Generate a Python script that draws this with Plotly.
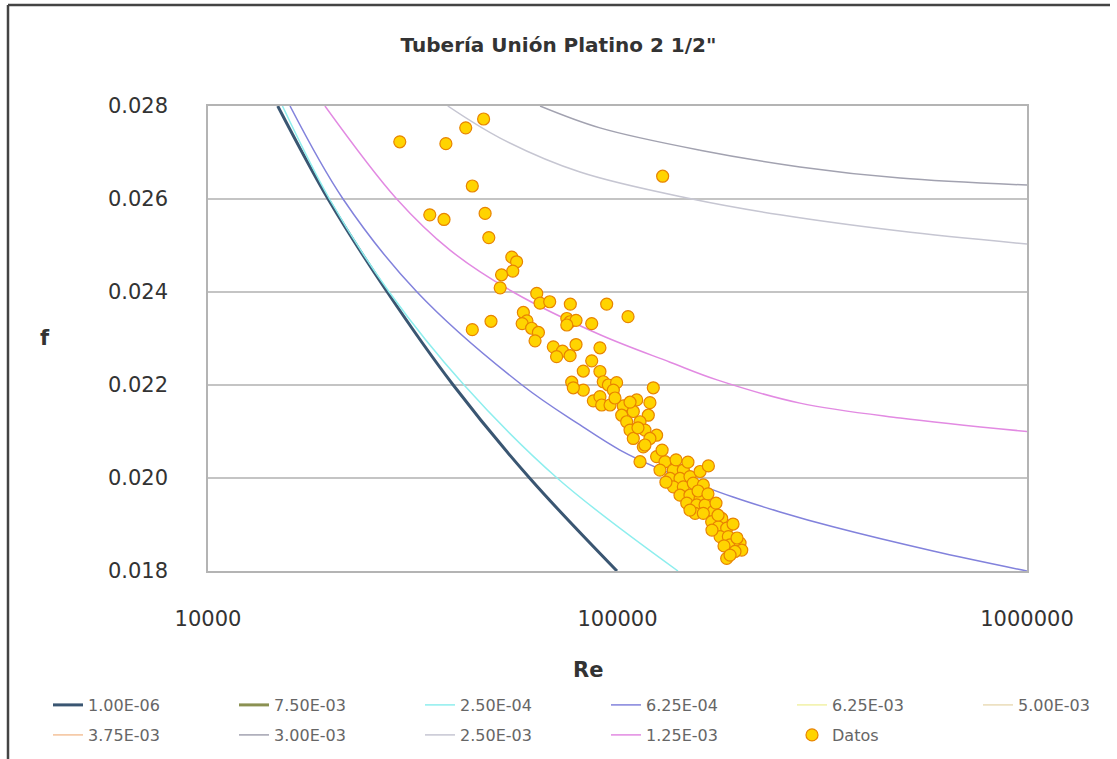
import plotly.graph_objects as go

# ---------------- data ----------------
# reference curves (Re, f) for each relative roughness
re_1e06 = [14800, 19650, 27400, 39700, 61000, 99700]
f_1e06 = [0.0280, 0.0260, 0.0240, 0.0220, 0.0200, 0.0180]

re_250e04 = [15200, 19800, 27700, 42200, 71200, 140500]
f_250e04 = [0.0280, 0.0260, 0.0240, 0.0220, 0.0200, 0.0180]

re_625e04 = [15860, 21370, 32390, 58450, 81000, 101400, 127000, 159100,
             191500, 249400, 336000, 589500, 1000000]
f_625e04 = [0.0280, 0.0260, 0.0240, 0.0220, 0.02114, 0.0206, 0.02019, 0.01985,
            0.01959, 0.01927, 0.01895, 0.01843, 0.0180]

re_125e03 = [19300, 28900, 39000, 55600, 90700, 134400, 175000, 279000, 490000, 1000000]
f_125e03 = [0.0280, 0.0260, 0.0249, 0.0240, 0.02308, 0.02249, 0.02211, 0.02161, 0.02129, 0.02100]

re_250e03 = [38500, 51700, 81000, 152000, 249400, 489700, 1000000]
f_250e03 = [0.0280, 0.02731, 0.02658, 0.0260, 0.02566, 0.02531, 0.02503]

re_300e03 = [64700, 90600, 159100, 279000, 490000, 1000000]
f_300e03 = [0.0280, 0.02753, 0.02705, 0.02669, 0.02645, 0.0263]

# curves that lie above the visible range (estimated)
re_off = [10000, 100000, 1000000]
f_375e03 = [0.0325, 0.0293, 0.0286]
f_500e03 = [0.0343, 0.0313, 0.0305]
f_625e03 = [0.0360, 0.0334, 0.0326]
f_750e03 = [0.0375, 0.0352, 0.0346]

# measured data points
re_datos = [29400, 38100, 42600, 47100, 44200, 34800, 37700, 47500, 48500, 128900,
            55200, 56700, 55500, 52100, 51700, 63500, 64700, 68300, 76700, 94100,
            106100, 49100, 44200, 58900, 60100, 58500, 61700, 64100, 62900, 75200,
            76600, 79200, 75200, 86500, 69700, 73400, 71000, 76600, 79200, 90600,
            86500, 82500, 90600, 77300, 82500, 78000, 92300, 95000, 99500, 97700,
            122300, 87300, 90600, 91500, 95900, 103300, 111400, 120000, 102400, 109300,
            118900, 105300, 113500, 107300, 116700, 124600, 109300, 120000, 115600, 113500,
            124600, 130600, 127000, 136900, 144800, 134400, 142100, 150300, 159100, 166700,
            136900, 144800, 153100, 162000, 142100, 150300, 159100, 147600, 156100, 163600,
            171400, 154700, 162000, 169800, 179700, 176300, 184800, 178000, 186500, 188300,
            199200, 201100, 193600, 184800, 116700, 128500, 139000, 148600, 131300, 157300,
            166300, 174000, 170100, 191500, 182000, 195800, 150300, 176000, 188300, 98600,
            107300, 112200]
f_datos = [0.02723, 0.02719, 0.02753, 0.02772, 0.02628, 0.02566, 0.02556, 0.02569, 0.02517, 0.02649,
           0.02475, 0.02465, 0.02445, 0.02437, 0.02409, 0.02397, 0.02376, 0.02379, 0.02374, 0.02374,
           0.02347, 0.02337, 0.02319, 0.02356, 0.02338, 0.02332, 0.02322, 0.02313, 0.02295, 0.02343,
           0.02336, 0.02339, 0.02329, 0.02332, 0.02282, 0.02273, 0.02261, 0.02263, 0.02287, 0.02280,
           0.02252, 0.02230, 0.02229, 0.02206, 0.02189, 0.02194, 0.02207, 0.02200, 0.02205, 0.02189,
           0.02194, 0.02166, 0.02175, 0.02157, 0.02157, 0.02155, 0.02168, 0.02162, 0.02135, 0.02143,
           0.02135, 0.02121, 0.02121, 0.02103, 0.02103, 0.02092, 0.02085, 0.02085, 0.02067, 0.02035,
           0.02046, 0.02035, 0.02017, 0.02017, 0.02017, 0.01999, 0.01999, 0.02003, 0.02014, 0.02026,
           0.01981, 0.01981, 0.01989, 0.01985, 0.01963, 0.01963, 0.01956, 0.01946, 0.01942, 0.01942,
           0.01928, 0.01924, 0.01924, 0.01906, 0.01913, 0.01895, 0.01892, 0.01874, 0.01874, 0.01856,
           0.01860, 0.01845, 0.01842, 0.01827, 0.02071, 0.02060, 0.02039, 0.02034, 0.01991, 0.01972,
           0.01966, 0.01946, 0.01888, 0.01901, 0.01854, 0.01871, 0.01931, 0.01920, 0.01834, 0.02172,
           0.02163, 0.02108]

x_tickvals = [10000, 100000, 1000000]
x_ticktext = ["10000", "100000", "1000000"]

# ---------------- figure ----------------
W, H = 1117, 759
L, R, T, B = 208, 90, 106, 188
PW, PH = W - L - R, H - T - B


def px_x(p):
    return (p - L) / PW


def px_y(p):
    return (H - B - p) / PH


FONT = "DejaVu Sans"
fig = go.Figure()


def curve(x, y, name, color, width, legend):
    fig.add_trace(go.Scatter(x=x, y=y, mode="lines", name=name, legend=legend,
                             line=dict(color=color, width=width, shape="spline", smoothing=1.0),
                             hoverinfo="skip"))


curve(re_1e06, f_1e06, "1.00E-06", "#3a5672", 3, "legend")
curve(re_off, f_750e03, "7.50E-03", "#8b9152", 3, "legend")
curve(re_250e04, f_250e04, "2.50E-04", "#8eeeee", 1.5, "legend")
curve(re_625e04, f_625e04, "6.25E-04", "#8282dc", 1.5, "legend")
curve(re_off, f_625e03, "6.25E-03", "#f1f1a6", 1.5, "legend")
curve(re_off, f_500e03, "5.00E-03", "#eadcb8", 1.5, "legend3")
curve(re_off, f_375e03, "3.75E-03", "#f4c29a", 1.5, "legend2")
curve(re_300e03, f_300e03, "3.00E-03", "#a2a2b0", 1.5, "legend2")
curve(re_250e03, f_250e03, "2.50E-03", "#c6c6d2", 1.5, "legend2")
curve(re_125e03, f_125e03, "1.25E-03", "#e28ae2", 1.5, "legend2")

fig.add_trace(go.Scatter(x=re_datos, y=f_datos, mode="markers", name="Datos", legend="legend2",
                         marker=dict(size=12, color="#ffd400", line=dict(color="#e88400", width=1.2))))

legend_common = dict(orientation="h", xanchor="left", yanchor="middle",
                     entrywidth=141, entrywidthmode="pixels", itemwidth=30,
                     font=dict(family=FONT, size=16, color="#666666"),
                     bgcolor="rgba(0,0,0,0)", borderwidth=0, tracegroupgap=0)

fig.update_layout(
    width=W, height=H,
    margin=dict(l=L, r=R, t=T, b=B, autoexpand=False),
    paper_bgcolor="white", plot_bgcolor="white",
    showlegend=True,
    title=dict(text="Tubería Unión Platino 2 1/2\"", x=0.5, xref="container", xanchor="center",
               y=1 - 45 / H, yref="container", yanchor="middle",
               font=dict(family=FONT, size=20, color="#333333", weight="bold")),
    legend=dict(x=px_x(48), y=px_y(705), **legend_common),
    legend2=dict(x=px_x(48), y=px_y(735), **legend_common),
    legend3=dict(x=px_x(978), y=px_y(705), **{**legend_common, "entrywidth": 0}),
    xaxis=dict(type="log", range=[4, 6], tickvals=x_tickvals, ticktext=x_ticktext,
               showgrid=False, zeroline=False, showline=True, mirror=True,
               linecolor="#b4b4b4", linewidth=1.5, ticks="", ticklabelstandoff=28,
               tickfont=dict(family=FONT, size=21, color="#333333")),
    yaxis=dict(range=[0.018, 0.028], tick0=0.018, dtick=0.002, tickformat=".3f",
               showgrid=True, gridcolor="#c4c4c4", gridwidth=1.5, zeroline=False,
               showline=True, mirror=True, linecolor="#b4b4b4", linewidth=1.5,
               ticks="", ticklabelstandoff=34,
               tickfont=dict(family=FONT, size=21, color="#333333")),
    annotations=[
        dict(text="<b>Re</b>", x=px_x(588), y=px_y(670), xref="paper", yref="paper",
             showarrow=False, xanchor="center", yanchor="middle",
             font=dict(family=FONT, size=21, color="#333333")),
        dict(text="<b>f</b>", x=px_x(45), y=px_y(338), xref="paper", yref="paper",
             showarrow=False, xanchor="center", yanchor="middle",
             font=dict(family=FONT, size=21, color="#333333")),
    ],
    shapes=[
        dict(type="line", xref="paper", yref="paper", x0=px_x(8), x1=px_x(1110),
             y0=px_y(5), y1=px_y(5), line=dict(color="#444444", width=2.5)),
        dict(type="line", xref="paper", yref="paper", x0=px_x(8), x1=px_x(8),
             y0=px_y(5), y1=px_y(760), line=dict(color="#444444", width=2.5)),
    ],
)

fig.write_html("out.html")
